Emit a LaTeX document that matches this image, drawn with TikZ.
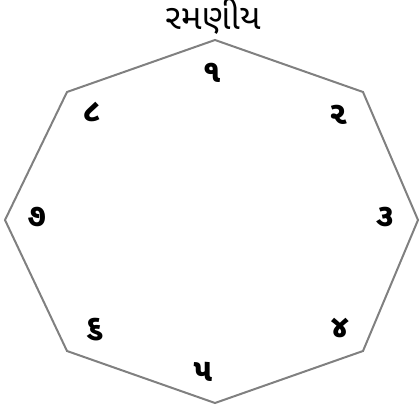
\documentclass[tikz,border=0pt]{standalone}
\usepackage{fontspec}
\newfontfamily\gujfont[Script=Gujarati]{Noto Sans Gujarati UI}
\begin{document}
\begin{tikzpicture}[x=1pt,y=-1pt,
  octline/.style={draw=black!50,line width=2pt,line join=miter},
  numlabel/.style={font=\gujfont\fontsize{32}{32}\selectfont\bfseries,inner sep=0pt},
  titlelabel/.style={font=\gujfont\fontsize{35}{35}\selectfont,inner sep=0pt}]
\useasboundingbox (0,0) rectangle (420,406);
\coordinate (v1) at (215,40);
\coordinate (v2) at (363,92);
\coordinate (v3) at (418,220);
\coordinate (v4) at (363,351);
\coordinate (v5) at (215,403);
\coordinate (v6) at (67,351);
\coordinate (v7) at (5,220);
\coordinate (v8) at (67,92);
\draw[octline] (v1) -- (v2) -- (v3) -- (v4) -- (v5) -- (v6) -- (v7) -- (v8) -- cycle;
\node[titlelabel] (t) at (213,16) {રમણીય};
\node[numlabel] (n1) at (212,73) {૧};
\node[numlabel] (n2) at (338,115) {૨};
\node[numlabel] (n3) at (385,217) {૩};
\node[numlabel] (n4) at (340,328) {૪};
\node[numlabel] (n5) at (203,372) {૫};
\node[numlabel] (n6) at (95,330) {૬};
\node[numlabel] (n7) at (37,217) {૭};
\node[numlabel] (n8) at (92,112) {૮};
\end{tikzpicture}
\end{document}
